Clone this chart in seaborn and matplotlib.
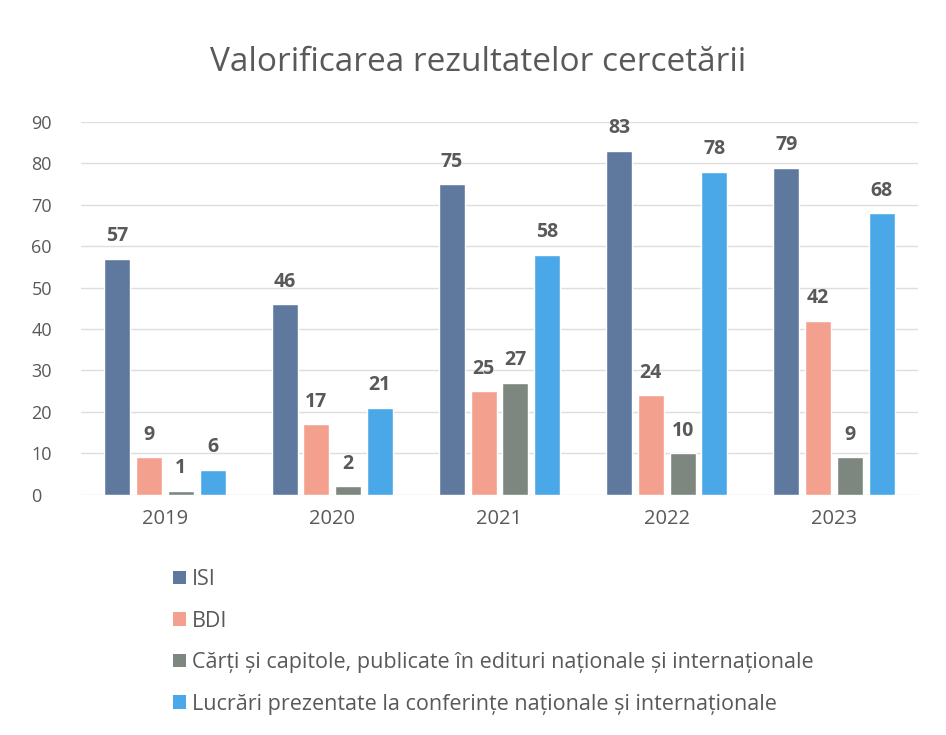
import matplotlib
matplotlib.use("Agg")
import matplotlib.pyplot as plt
import seaborn as sns
import pandas as pd
from matplotlib.patches import Patch

years = ["2019", "2020", "2021", "2022", "2023"]
series = [
    "ISI",
    "BDI",
    "Cărți și capitole, publicate în edituri naționale și internaționale",
    "Lucrări prezentate la conferințe naționale și internaționale",
]
isi = [57, 46, 75, 83, 79]
bdi = [9, 17, 25, 24, 42]
carti = [1, 2, 27, 10, 9]
lucrari = [6, 21, 58, 78, 68]
colors = ["#5f789e", "#f4a08f", "#7d8780", "#4aa8e8"]

rows = []
for name, vals in zip(series, [isi, bdi, carti, lucrari]):
    for y, v in zip(years, vals):
        rows.append({"An": y, "Serie": name, "Valoare": v})
df = pd.DataFrame(rows)

sns.set_style("white")
plt.rcParams["font.family"] = ["Open Sans", "DejaVu Sans"]
txt = "#595959"

fig = plt.figure(figsize=(9.46, 7.35), dpi=100)
ax = fig.add_axes([0.086, 0.327, 0.884, 0.507])

sns.barplot(data=df, x="An", y="Valoare", hue="Serie", palette=colors,
            width=0.76, gap=0.18, ax=ax, legend=False, saturation=1)

for cont in ax.containers:
    ax.bar_label(cont, padding=9, fontsize=14, color=txt, fontweight="bold")

ax.set_ylim(0, 90)
ax.set_yticks(range(0, 91, 10))
ax.yaxis.grid(True, color="#dedede", linewidth=1)
ax.set_axisbelow(True)
for s in ax.spines.values():
    s.set_visible(False)
ax.set_xlabel("")
ax.set_ylabel("")
ax.tick_params(axis="y", labelsize=13, colors=txt, length=0, pad=36)
ax.tick_params(axis="x", labelsize=14.5, colors=txt, length=0, pad=10)
for lab in ax.get_yticklabels():
    lab.set_ha("left")

fig.text(0.505, 0.915, "Valorificarea rezultatelor cercetării", ha="center",
         va="center", fontsize=24, color=txt)

handles = [Patch(facecolor=c, edgecolor="none") for c in colors]
fig.legend(handles, series, loc="upper left", bbox_to_anchor=(0.162, 0.252),
           frameon=False, fontsize=15.5, labelcolor=txt, handlelength=0.6,
           handleheight=0.6, handletextpad=0.3, labelspacing=0.95)

fig.savefig("out.png", dpi=100, facecolor="white")
